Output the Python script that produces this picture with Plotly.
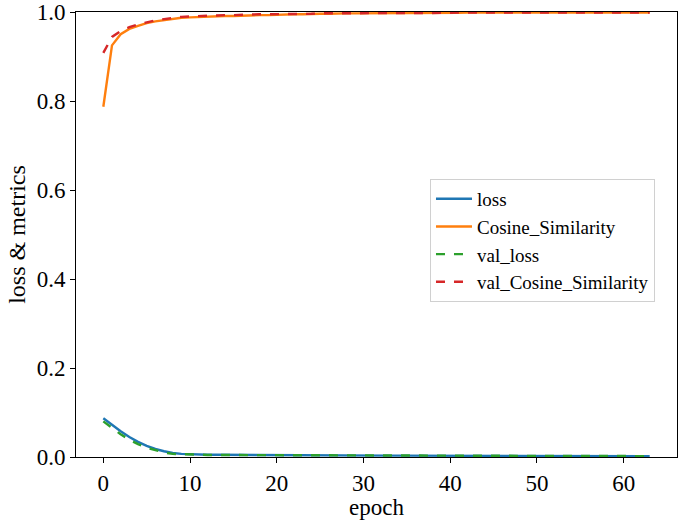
import plotly.graph_objects as go

epochs = list(range(64))

loss = [0.087, 0.072, 0.058, 0.045, 0.034, 0.025, 0.018, 0.013, 0.009, 0.007,
        0.006, 0.0055, 0.005, 0.005, 0.0048, 0.0046, 0.0045, 0.0044, 0.0043, 0.0042,
        0.0041, 0.004, 0.0039, 0.0038, 0.0037, 0.0036, 0.0035, 0.0034, 0.0033, 0.0033,
        0.0032, 0.0031, 0.0031, 0.003, 0.003, 0.0029, 0.0029, 0.0028, 0.0028, 0.0027,
        0.0027, 0.0026, 0.0026, 0.0026, 0.0025, 0.0025, 0.0025, 0.0024, 0.0024, 0.0024,
        0.0023, 0.0023, 0.0023, 0.0022, 0.0022, 0.0022, 0.0022, 0.0021, 0.0021, 0.0021,
        0.0021, 0.002, 0.002, 0.002]

val_loss = [0.080, 0.065, 0.051, 0.039, 0.029, 0.021, 0.015, 0.010, 0.007, 0.006,
            0.005, 0.0048, 0.0046, 0.0045, 0.0044, 0.0043, 0.0042, 0.0041, 0.004, 0.0039,
            0.0038, 0.0037, 0.0036, 0.0035, 0.0034, 0.0034, 0.0033, 0.0032, 0.0032, 0.0031,
            0.0031, 0.003, 0.003, 0.0029, 0.0029, 0.0028, 0.0028, 0.0027, 0.0027, 0.0027,
            0.0026, 0.0026, 0.0026, 0.0025, 0.0025, 0.0025, 0.0024, 0.0024, 0.0024, 0.0023,
            0.0023, 0.0023, 0.0023, 0.0022, 0.0022, 0.0022, 0.0022, 0.0021, 0.0021, 0.0021,
            0.0021, 0.002, 0.002, 0.002]

cos_sim = [0.787, 0.925, 0.950, 0.962, 0.969, 0.975, 0.979, 0.982, 0.985, 0.987,
           0.988, 0.989, 0.990, 0.990, 0.991, 0.991, 0.992, 0.992, 0.993, 0.993,
           0.994, 0.994, 0.995, 0.995, 0.996, 0.996, 0.996, 0.997, 0.997, 0.997,
           0.997, 0.997, 0.998, 0.998, 0.998, 0.998, 0.998, 0.998, 0.998, 0.998,
           0.998, 0.998, 0.999, 0.999, 0.999, 0.999, 0.999, 0.999, 0.999, 0.999,
           0.999, 0.999, 0.999, 0.999, 0.999, 0.999, 0.999, 0.999, 0.999, 0.999,
           0.999, 0.999, 0.999, 0.999]

val_cos_sim = [0.908, 0.944, 0.957, 0.966, 0.972, 0.977, 0.981, 0.984, 0.987, 0.989,
               0.990, 0.991, 0.992, 0.992, 0.993, 0.993, 0.994, 0.994, 0.995, 0.995,
               0.995, 0.996, 0.996, 0.996, 0.996, 0.997, 0.997, 0.997, 0.997, 0.997,
               0.998, 0.998, 0.998, 0.998, 0.998, 0.998, 0.998, 0.998, 0.998, 0.998,
               0.998, 0.999, 0.999, 0.999, 0.999, 0.999, 0.999, 0.999, 0.999, 0.999,
               0.999, 0.999, 0.999, 0.999, 0.999, 0.999, 0.999, 0.999, 0.999, 0.999,
               0.999, 0.999, 0.999, 0.999]

x_ticks = [0, 10, 20, 30, 40, 50, 60]
y_ticks = [0.0, 0.2, 0.4, 0.6, 0.8, 1.0]

FONT = "Liberation Serif"

fig = go.Figure()
fig.add_trace(go.Scatter(x=epochs, y=loss, mode="lines", name="loss",
                         line=dict(color="#1f77b4", width=2.4)))
fig.add_trace(go.Scatter(x=epochs, y=cos_sim, mode="lines", name="Cosine_Similarity",
                         line=dict(color="#ff7f0e", width=2.4)))
fig.add_trace(go.Scatter(x=epochs, y=val_loss, mode="lines", name="val_loss",
                         line=dict(color="#2ca02c", width=2.4, dash="dash")))
fig.add_trace(go.Scatter(x=epochs, y=val_cos_sim, mode="lines", name="val_Cosine_Similarity",
                         line=dict(color="#d62728", width=2.4, dash="dash")))

axis_common = dict(showgrid=False, zeroline=False, showline=True, linecolor="black",
                   linewidth=1, mirror=True, ticks="outside", ticklen=5, tickwidth=1,
                   tickcolor="black", ticklabeloverflow="allow",
                   tickfont=dict(family=FONT, size=23, color="black"))

fig.update_layout(
    width=690, height=520,
    margin=dict(l=76, r=13, t=12, b=63),
    paper_bgcolor="white", plot_bgcolor="white",
    font=dict(family=FONT, color="black"),
    showlegend=True,
    legend=dict(x=0.589, y=0.625, xanchor="left", yanchor="top",
                bgcolor="white", bordercolor="#d0d0d0", borderwidth=1,
                font=dict(family=FONT, size=19, color="black"),
                tracegroupgap=0, itemwidth=36),
)
fig.update_xaxes(range=[-3.15, 66.15], tickvals=x_ticks,
                 ticktext=[str(v) for v in x_ticks], automargin=False,
                 title=dict(text="epoch", font=dict(family=FONT, size=23, color="black"), standoff=3),
                 **axis_common)
fig.update_yaxes(range=[0, 1], tickvals=y_ticks,
                 ticktext=[f"{v:.1f}" for v in y_ticks], automargin=False,
                 title=dict(text="loss & metrics", font=dict(family=FONT, size=24, color="black"), standoff=4),
                 **axis_common)

fig.write_html("out.html")
